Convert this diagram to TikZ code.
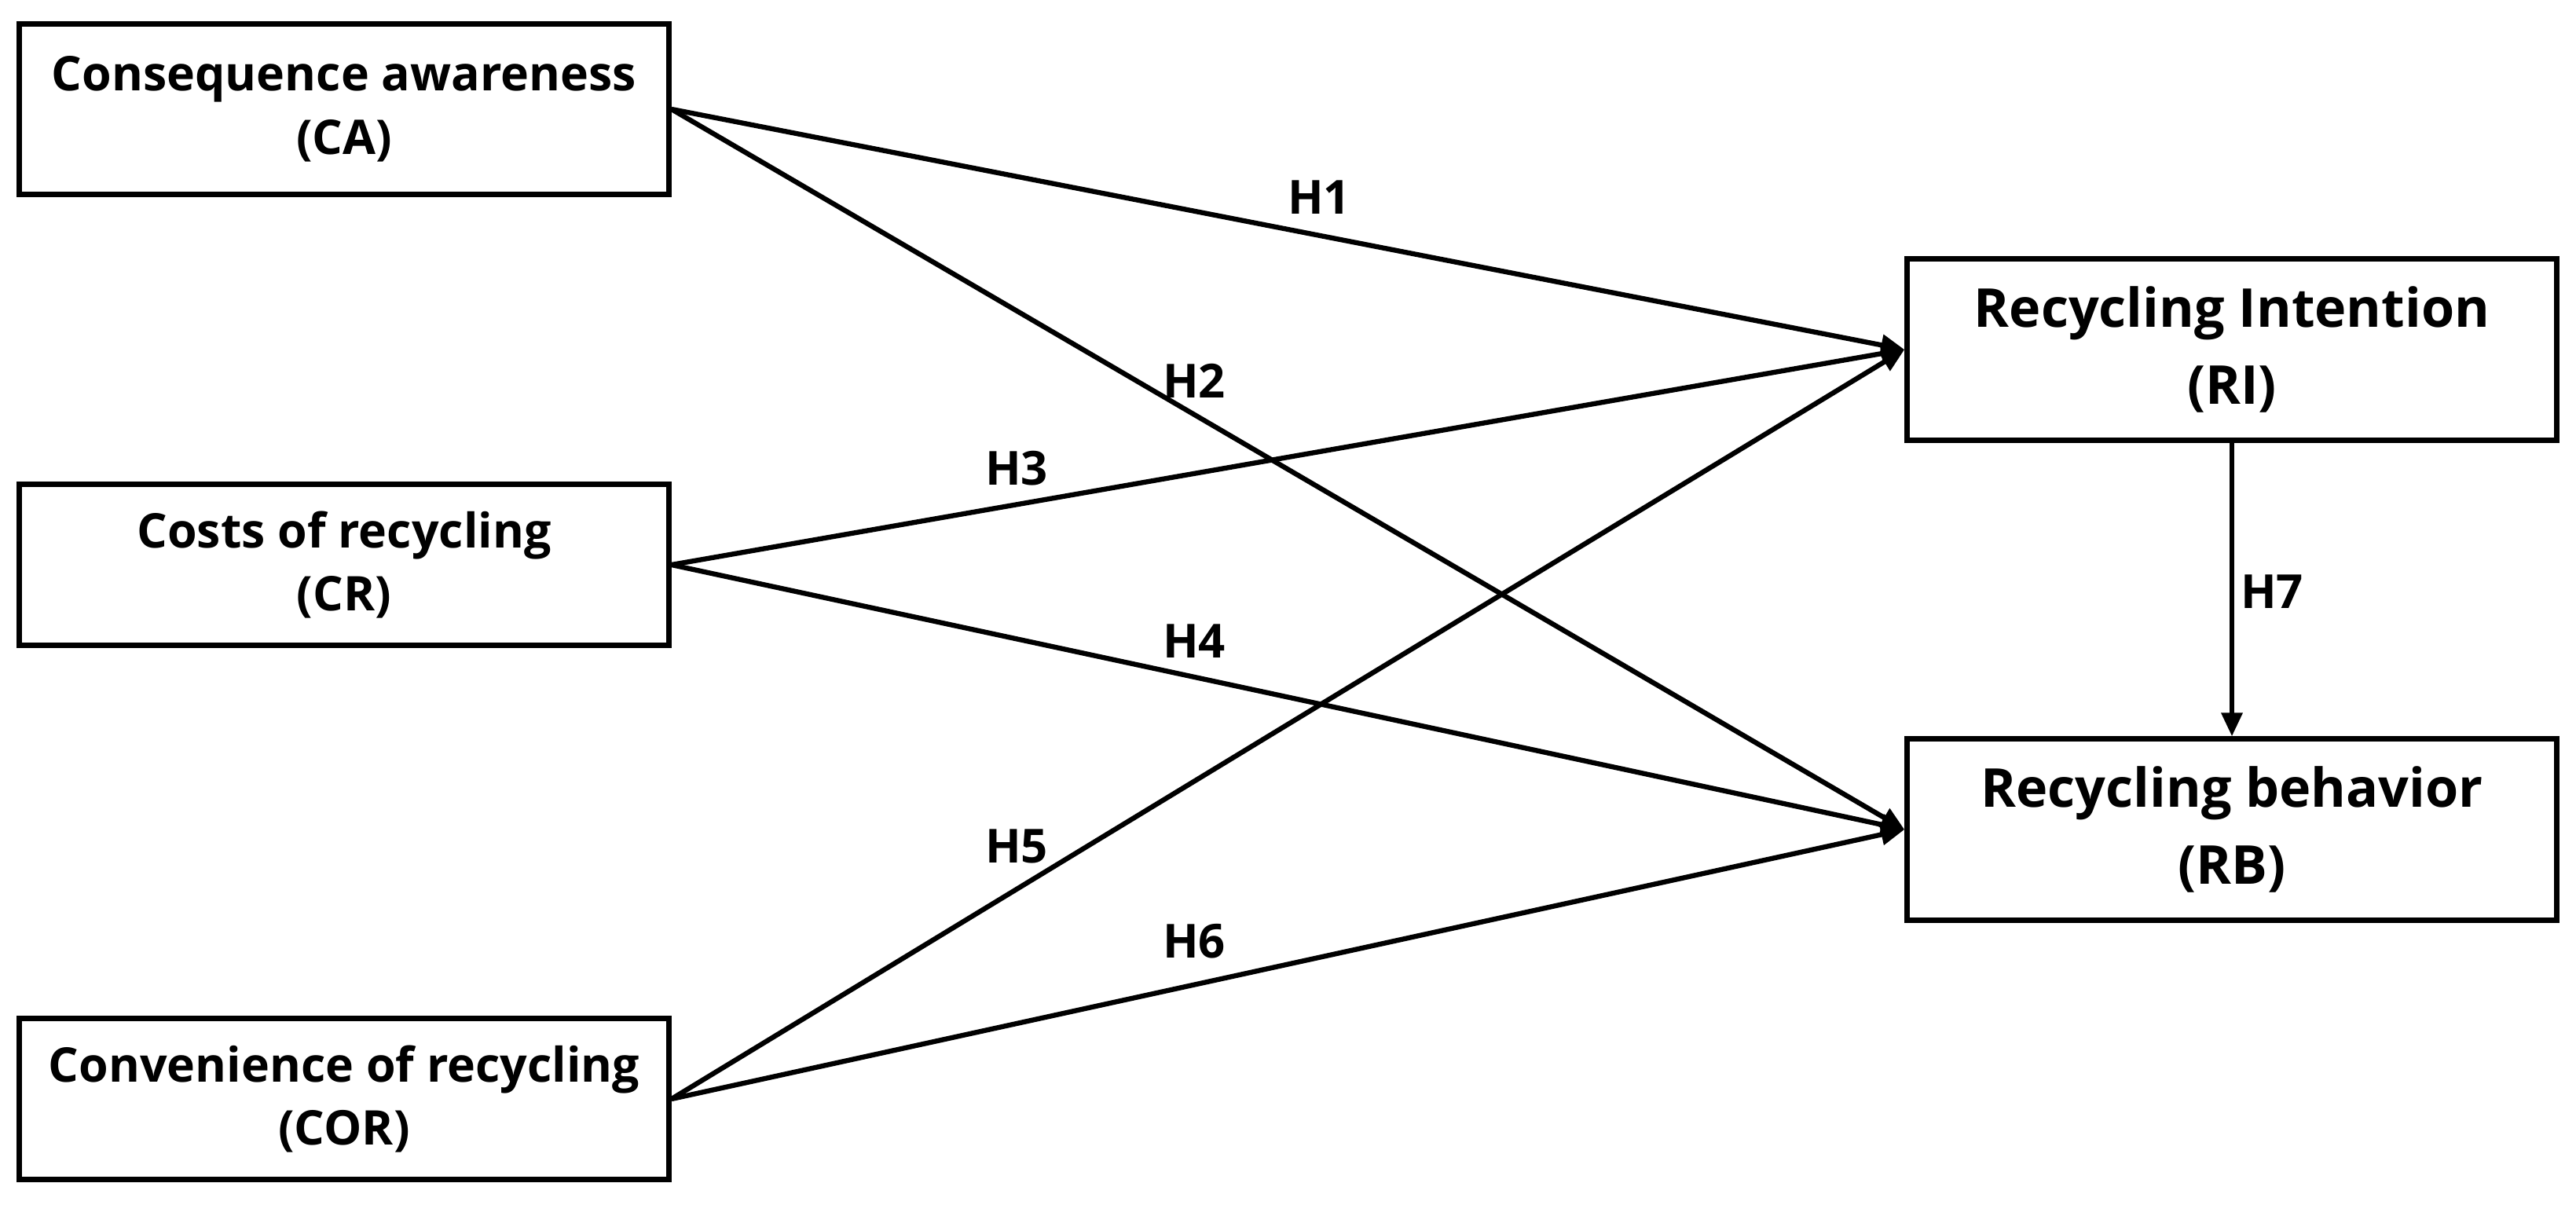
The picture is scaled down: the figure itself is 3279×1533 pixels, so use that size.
\documentclass[tikz,border=0pt]{standalone}
\usepackage{fontspec}
\setmainfont{Open Sans}
\usetikzlibrary{arrows.meta}
\begin{document}
\begin{tikzpicture}[x=0.01cm,y=-0.01cm,
  box/.style={draw, line width=2pt, minimum width=8.26cm, align=center, font=\fontsize{17.3}{23}\selectfont\bfseries, inner sep=0pt},
  bigbox/.style={box, font=\fontsize{19.4}{28}\selectfont\bfseries},
  conn/.style={line width=1.8pt, -{Triangle[length=0.3cm,width=0.26cm]}},
  hlab/.style={font=\fontsize{17}{20}\selectfont\bfseries, inner sep=0pt}]
\useasboundingbox (0,0) rectangle (3279,1533);
\node[box, minimum height=2.16cm] (CA) at (438,139) {Consequence awareness\\(CA)};
\node[box, minimum height=2.05cm] (CR) at (438,719) {Costs of recycling\\(CR)};
\node[box, minimum height=2.05cm] (COR) at (438,1399) {Convenience of recycling\\(COR)};
\node[bigbox, minimum height=2.30cm] (RI) at (2841,445) {Recycling Intention\\(RI)};
\node[bigbox, minimum height=2.30cm] (RB) at (2841,1056) {Recycling behavior\\(RB)};
\draw[conn] (CA.east) -- (RI.west);
\draw[conn] (CA.east) -- (RB.west);
\draw[conn] (CR.east) -- (RI.west);
\draw[conn] (CR.east) -- (RB.west);
\draw[conn] (COR.east) -- (RI.west);
\draw[conn] (COR.east) -- (RB.west);
\draw[conn] (RI.south) -- (RB.north);
\node[hlab] (h1) at (1679,251) {H1};
\node[hlab] (h2) at (1520,485) {H2};
\node[hlab] (h3) at (1294,596) {H3};
\node[hlab] (h4) at (1520,816) {H4};
\node[hlab] (h5) at (1294,1077) {H5};
\node[hlab] (h6) at (1520,1198) {H6};
\node[hlab] (h7) at (2892,753) {H7};
\end{tikzpicture}
\end{document}
